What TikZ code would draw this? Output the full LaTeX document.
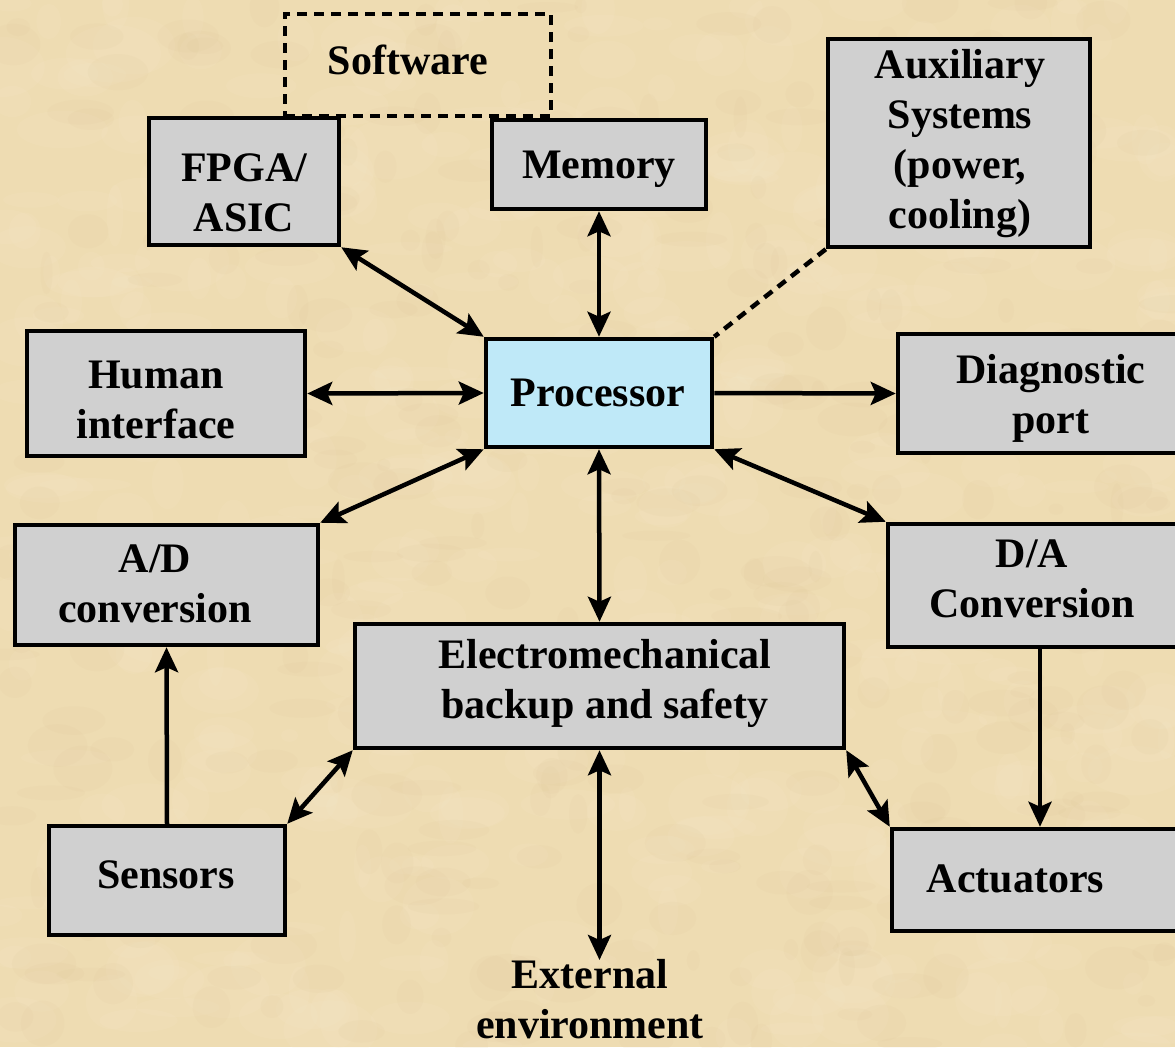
\documentclass[tikz,border=0pt]{standalone}
\usepackage{fontspec}
\setmainfont{Liberation Serif}
\usetikzlibrary{arrows.meta}
\definecolor{parch}{HTML}{EEDCB2}
\definecolor{parchlight}{HTML}{F7EACB}
\definecolor{parchdark}{HTML}{D9C294}
\definecolor{boxgray}{HTML}{D0D0D0}
\definecolor{procblue}{HTML}{BFE9F8}
\begin{document}
\begin{tikzpicture}[x=1pt,y=-1pt,
  box/.style={draw=black, line width=4.5pt, fill=boxgray, rectangle, inner sep=0pt},
  lbl/.style={font=\fontsize{42}{50}\selectfont\bfseries, align=center, inner sep=0pt},
  conn/.style={line width=4.5pt},
  tip/.tip={Stealth[length=25pt,width=23pt,inset=5pt]},
  dbl/.style={conn, tip-tip},
  one/.style={conn, -tip},
  dsh/.style={line width=4.5pt, dash pattern=on 10pt off 7pt}
]
\fill[parch] (0,0) rectangle (1175,1047);
\useasboundingbox (0,0) rectangle (1175,1047);
\clip (0,0) rectangle (1175,1047);

% subtle parchment mottling
\pgfmathsetseed{11}
\foreach \i in {1,...,500}{
  \pgfmathsetmacro\xx{rnd*1175}
  \pgfmathsetmacro\yy{rnd*1047}
  \pgfmathsetmacro\rx{8+rnd*40}
  \pgfmathsetmacro\ry{6+rnd*25}
  \fill[parchlight, opacity=0.14] (\xx,\yy) ellipse ({\rx pt} and {\ry pt});
}
\foreach \i in {1,...,350}{
  \pgfmathsetmacro\xx{rnd*1175}
  \pgfmathsetmacro\yy{rnd*1047}
  \pgfmathsetmacro\rx{6+rnd*30}
  \pgfmathsetmacro\ry{5+rnd*18}
  \fill[parchdark, opacity=0.09] (\xx,\yy) ellipse ({\rx pt} and {\ry pt});
}

% dashed software box (behind)
\node[draw, dsh, rectangle, inner sep=0pt, minimum width=266pt, minimum height=102pt] (soft) at (418,65) {};

% boxes
\node[box, minimum width=190pt, minimum height=127pt] (fpga) at (244,181.5) {};
\node[box, minimum width=214pt, minimum height=89pt] (mem) at (599,164.5) {};
\node[box, minimum width=262pt, minimum height=208pt] (aux) at (959,143) {};
\node[box, minimum width=278pt, minimum height=125pt] (hum) at (166,393.5) {};
\node[box, fill=procblue, minimum width=226pt, minimum height=108pt] (proc) at (599,393) {};
\node[box, minimum width=304pt, minimum height=119pt] (diag) at (1050,393.5) {};
\node[box, minimum width=303pt, minimum height=120pt] (ad) at (166.5,585) {};
\node[box, minimum width=304pt, minimum height=123pt] (da) at (1040,585.5) {};
\node[box, minimum width=489pt, minimum height=124pt] (ele) at (599.5,686) {};
\node[box, minimum width=236pt, minimum height=109pt] (sens) at (167,880.5) {};
\node[box, minimum width=296pt, minimum height=102pt] (act) at (1040,880) {};

% labels
\node[lbl] (softT) at (408,60) {Software};
\node[lbl] (fpgaT) at (244,193) {FPGA/\\ASIC};
\node[lbl] (memT) at (599,169) {Memory};
\node[lbl] (auxT) at (960,144) {Auxiliary\\Systems\\(power,\\cooling)};
\node[lbl] (humT) at (156,400) {Human\\interface};
\node[lbl] (procT) at (598,393) {Processor};
\node[lbl] (diagT) at (1051,398) {Diagnostic\\port};
\node[lbl] (adT) at (155,584) {A/D\\conversion};
\node[lbl] (daT) at (1032,578.5) {D/A\\Conversion};
\node[lbl] (eleT) at (605,683) {Electromechanical\\backup and safety};
\node[lbl] (sensT) at (166,875) {Sensors};
\node[lbl] (actT) at (1015.5,879) {Actuators};
\node[lbl] (ext) at (590,999) {External\\environment};
\coordinate (extTop) at (600,960);

% connectors
\draw[dbl] (fpga.south east) -- (proc.north west);
\draw[dbl] (mem.south) -- (proc.north);
\draw[dsh] (aux.south west) -- (proc.north east);
\draw[dbl] (hum.east) -- (proc.west);
\draw[one] (proc.east) -- (diag.west);
\draw[dbl] (proc.south west) -- (ad.north east);
\draw[dbl] (proc.south east) -- (da.north west);
\draw[dbl] (proc.south) -- (ele.north);
\draw[one] (sens.north) -- (ad.south);
\draw[one] (da.south) -- (act.north);
\draw[dbl] (sens.north east) -- (ele.south west);
\draw[dbl] (ele.south east) -- (act.north west);
\draw[dbl] (ele.south) -- (ele.south |- extTop);
\end{tikzpicture}
\end{document}
